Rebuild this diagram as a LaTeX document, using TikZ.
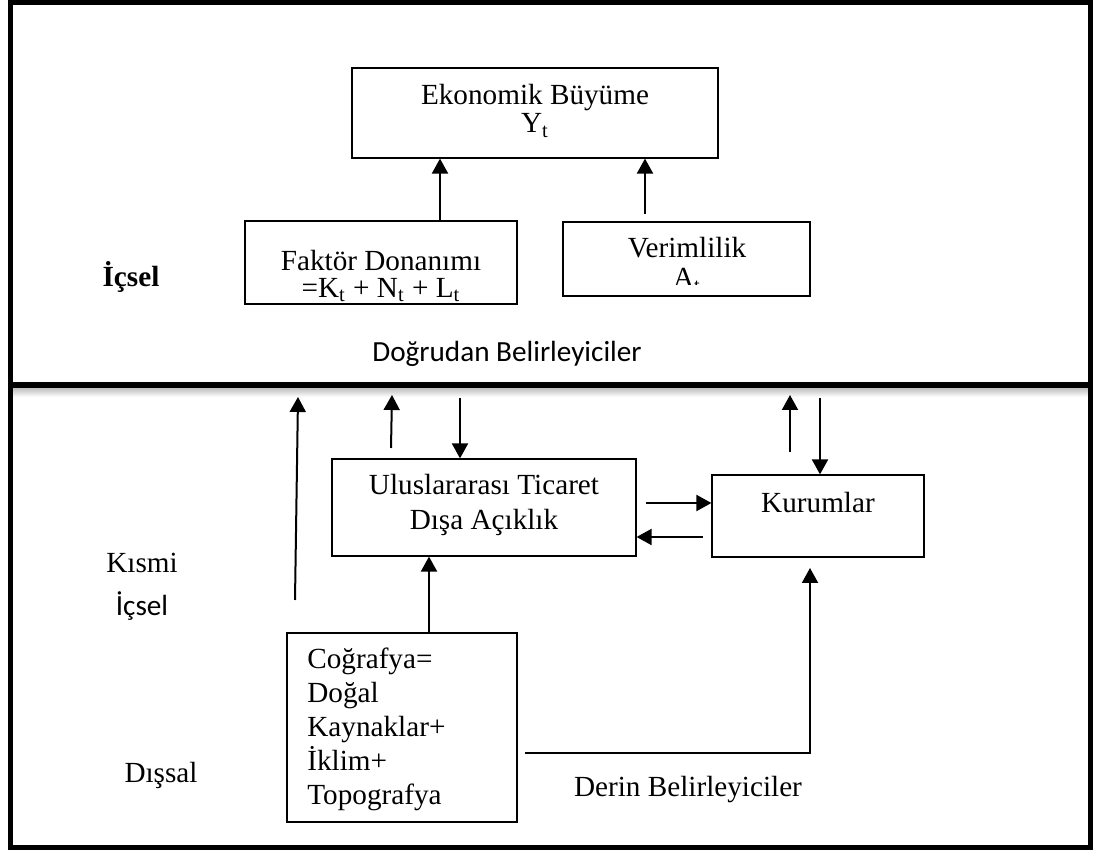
\documentclass[tikz,border=0pt]{standalone}
\usepackage{fontspec}
\setmainfont{Liberation Serif}
\newfontfamily\calibri{Carlito}
\usetikzlibrary{positioning, arrows.meta}

\begin{document}
\begin{tikzpicture}[x=0.5pt, y=-0.5pt,
  kutu/.style={draw, line width=0.6pt, inner sep=0pt},
  metin/.style={font=\fontsize{14.6}{17}\selectfont, align=center, inner sep=0pt},
  ok/.style={-{Triangle[length=7.5pt,width=8pt]}, line width=1pt}]
\useasboundingbox (0,0) rectangle (1093,854);
% cerceve
\shade[top color=black!28, bottom color=white] (10,387) rectangle (1090,397);
\draw[line width=2.5pt] (10,3) rectangle (1090,848);
\draw[line width=3pt] (10,385) -- (1090,385);

% kutular
\node[kutu, minimum width=183pt, minimum height=45pt] (ekon) at (535,113) {};
\node[kutu, minimum width=136pt, minimum height=41.5pt] (faktor) at (381,262.5) {};
\node[kutu, minimum width=123.5pt, minimum height=37pt] (verim) at (686.5,259) {};
\node[kutu, minimum width=152pt, minimum height=48.5pt] (ticaret) at (484,507.5) {};
\node[kutu, minimum width=106pt, minimum height=41pt] (kurum) at (818,516) {};
\node[kutu, minimum width=115pt, minimum height=94.5pt] (cograf) at (402,727.5) {};

% kutu yazilari
\node[metin, font=\fontsize{14.6}{14}\selectfont] (ekonT) at (535,111) {Ekonomik Büyüme\\Y\textsubscript{t}};
\node[metin, font=\fontsize{14.6}{13.5}\selectfont] (faktorT) at (381,276) {Faktör Donanımı\\=K\textsubscript{t} + N\textsubscript{t} + L\textsubscript{t}};
\begin{scope}
  \clip (563,222) rectangle (810,285);
  \node[metin, font=\fontsize{14.6}{15}\selectfont] (verimT) at (687,265) {Verimlilik\\A\textsubscript{t}};
\end{scope}
\node[metin, font=\fontsize{14.6}{17.5}\selectfont] (ticaretT) at (484,504.5) {Uluslararası Ticaret\\Dışa Açıklık};
\node[metin] (kurumT) at (818,503) {Kurumlar};
\node[metin, align=left, anchor=west] (cografT) at (307,729.5) {Coğrafya=\\Doğal\\Kaynaklar+\\İklim+\\Topografya};

% etiketler
\node[metin, font=\bfseries\fontsize{14.6}{17}\selectfont] (icsel) at (131,277) {İçsel};
\node[metin, font=\calibri\fontsize{14.6}{17}\selectfont] (dogrudan) at (507,354) {Doğrudan Belirleyiciler};
\node[metin] (kismi) at (142,563) {Kısmi};
\node[metin, font=\calibri\fontsize{14.6}{17}\selectfont] (kismiB) at (142,606) {İçsel};
\node[metin] (dissal) at (161,775) {Dışsal};
\node[metin] (derin) at (688,790) {Derin Belirleyiciler};

% oklar
\coordinate (v1) at (645,214);
\coordinate (a1) at (295,600);
\coordinate (a1u) at (298,397);
\coordinate (a2) at (391,448);
\coordinate (a2u) at (392,395);
\coordinate (a3) at (460,398);
\coordinate (a4) at (790,452);
\coordinate (a4u) at (790,395);
\coordinate (a5) at (820,398);
\coordinate (b1) at (646,503);
\coordinate (b2) at (703,537);
\coordinate (c1) at (525,753);
\coordinate (c2) at (810,568);

\draw[ok] (faktor.north -| 440,0) -- (ekon.south -| 440,0);
\draw[ok] (v1) -- (ekon.south -| v1);
\draw[ok] (a1) -- (a1u);
\draw[ok] (a2) -- (a2u);
\draw[ok] (a3) -- (ticaret.north -| a3);
\draw[ok] (a4) -- (a4u);
\draw[ok] (a5) -- (kurum.north -| a5);
\draw[ok] (b1) -- (kurum.west |- b1);
\draw[ok] (b2) -- (ticaret.east |- b2);
\draw[ok] (cograf.north -| 429,0) -- (ticaret.south -| 429,0);
\draw[ok] (c1) -- (c1 -| c2) -- (c2);
\end{tikzpicture}
\end{document}
